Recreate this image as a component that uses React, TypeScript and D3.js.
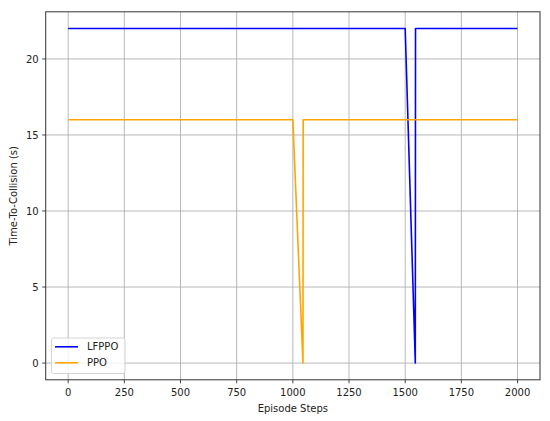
import React from "react";
import * as d3 from "d3";

const lfppoSteps = [0, 1500, 1545, 1546, 2000];
const lfppoTTC = [22, 22, 0, 22, 22];
const ppoSteps = [0, 1000, 1045, 1046, 2000];
const ppoTTC = [16, 16, 0, 16, 16];
const xTicks = [0, 250, 500, 750, 1000, 1250, 1500, 1750, 2000];
const yTicks = [0, 5, 10, 15, 20];
const seriesNames = ["LFPPO", "PPO"];
const seriesColors = ["#0000ff", "#ffa500"];

const W = 550, H = 421;
const m = { left: 45.7, right: 540, top: 11.8, bottom: 379.8 };

export default function App() {
  const x = d3.scaleLinear().domain([-100, 2100]).range([m.left, m.right]);
  const y = d3.scaleLinear().domain([-1.1, 23.1]).range([m.bottom, m.top]);
  const line = d3
    .line<[number, number]>()
    .x((d) => x(d[0]))
    .y((d) => y(d[1]));
  const series = [
    lfppoSteps.map((s, i) => [s, lfppoTTC[i]] as [number, number]),
    ppoSteps.map((s, i) => [s, ppoTTC[i]] as [number, number]),
  ];
  const font = "DejaVu Sans, sans-serif";
  return (
    <svg
      width={W}
      height={H}
      style={{ position: "absolute", left: 0, top: 0, background: "#fff" }}
      fontFamily={font}
    >
      <rect x={0} y={0} width={W} height={H} fill="#fff" />
      <g>
        {xTicks.map((t) => (
          <line
            key={"gx" + t}
            x1={x(t)}
            x2={x(t)}
            y1={m.top}
            y2={m.bottom}
            stroke="#b0b0b0"
            strokeWidth={0.9}
          />
        ))}
        {yTicks.map((t) => (
          <line
            key={"gy" + t}
            x1={m.left}
            x2={m.right}
            y1={y(t)}
            y2={y(t)}
            stroke="#b0b0b0"
            strokeWidth={0.9}
          />
        ))}
      </g>
      <defs>
        <clipPath id="clip">
          <rect x={m.left} y={m.top} width={m.right - m.left} height={m.bottom - m.top} />
        </clipPath>
      </defs>
      <g clipPath="url(#clip)">
        {series.map((s, i) => (
          <path
            key={i}
            d={line(s) || ""}
            fill="none"
            stroke={seriesColors[i]}
            strokeWidth={1.6}
            strokeLinejoin="round"
          />
        ))}
      </g>
      <rect
        x={m.left}
        y={m.top}
        width={m.right - m.left}
        height={m.bottom - m.top}
        fill="none"
        stroke="#333"
        strokeWidth={1}
      />
      {xTicks.map((t) => (
        <g key={"xt" + t}>
          <line x1={x(t)} x2={x(t)} y1={m.bottom} y2={m.bottom + 3.5} stroke="#333" strokeWidth={0.9} />
          <text x={x(t)} y={m.bottom + 16.5} fontSize={10} textAnchor="middle" fill="#222">
            {t}
          </text>
        </g>
      ))}
      {yTicks.map((t) => (
        <g key={"yt" + t}>
          <line x1={m.left - 3.5} x2={m.left} y1={y(t)} y2={y(t)} stroke="#333" strokeWidth={0.9} />
          <text x={m.left - 7} y={y(t) + 3.6} fontSize={10} textAnchor="end" fill="#222">
            {t}
          </text>
        </g>
      ))}
      <text x={(m.left + m.right) / 2} y={411.5} fontSize={10} textAnchor="middle" fill="#222">
        Episode Steps
      </text>
      <text
        transform={`translate(17,${(m.top + m.bottom) / 2}) rotate(-90)`}
        fontSize={10}
        textAnchor="middle"
        fill="#222"
      >
        Time-To-Collision (s)
      </text>
      <g>
        <rect x={51.5} y={338} width={73.5} height={35.5} rx={2} fill="#fff" fillOpacity={0.8} stroke="#d0d0d0" strokeWidth={0.9} />
        {seriesNames.map((n, i) => (
          <g key={n}>
            <line x1={55} x2={78} y1={346.8 + i * 16} y2={346.8 + i * 16} stroke={seriesColors[i]} strokeWidth={1.6} />
            <text x={87} y={350.4 + i * 16} fontSize={10} fill="#222">
              {n}
            </text>
          </g>
        ))}
      </g>
    </svg>
  );
}
